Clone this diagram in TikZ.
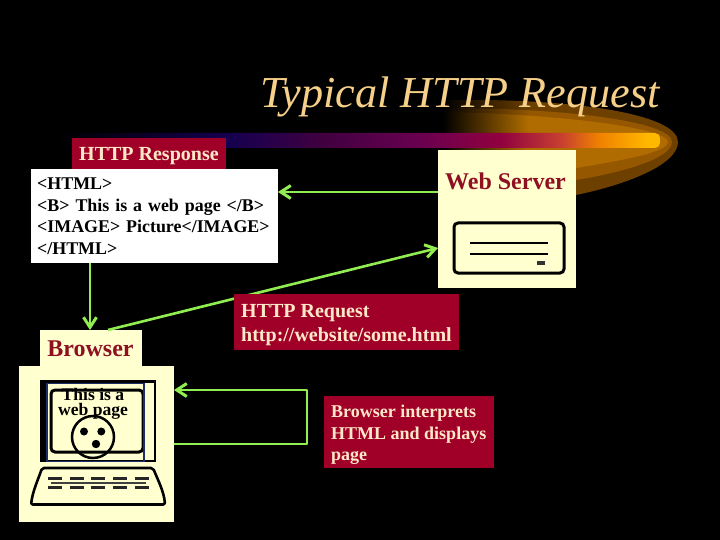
\documentclass[tikz,border=0pt]{standalone}
\usepackage{fontspec}
\setmainfont{Liberation Serif}
\usetikzlibrary{arrows.meta}
\definecolor{maroonbox}{HTML}{A00028}
\definecolor{creamtxt}{HTML}{FFE8C8}
\definecolor{paleyel}{HTML}{FFFFCF}
\definecolor{grn}{HTML}{92EE50}
\definecolor{titlecol}{HTML}{F6CF88}
\definecolor{lbl}{HTML}{8E1022}
\definecolor{scrblue}{HTML}{1A2F6A}
\definecolor{bA}{HTML}{150050}
\definecolor{bB}{HTML}{400040}
\definecolor{bC}{HTML}{6A0050}
\definecolor{bC2}{HTML}{90003F}
\definecolor{bD}{HTML}{C84030}
\definecolor{bE}{HTML}{F08000}
\definecolor{bF}{HTML}{FFB800}
\definecolor{sA}{HTML}{6E4000}
\definecolor{sB}{HTML}{955700}
\definecolor{sC}{HTML}{B06C00}
\pgfdeclarehorizontalshading{barshade}{100bp}{
 color(0bp)=(black); color(26bp)=(black); color(40bp)=(bA);
 color(47.5bp)=(bB); color(55.5bp)=(bC); color(62bp)=(bC2); color(67bp)=(bD);
 color(70bp)=(bE); color(74bp)=(bF); color(100bp)=(bF)}
\pgfdeclarehorizontalshading{swooshA}{100bp}{
 color(0bp)=(black); color(25bp)=(black); color(44bp)=(sA); color(100bp)=(sA)}
\pgfdeclarehorizontalshading{swooshB}{100bp}{
 color(0bp)=(black); color(25bp)=(black); color(44bp)=(sB); color(100bp)=(sB)}
\pgfdeclarehorizontalshading{swooshC}{100bp}{
 color(0bp)=(black); color(25bp)=(black); color(44bp)=(sC); color(100bp)=(sC)}
\tikzset{
 mbox/.style={fill=maroonbox,anchor=north west,inner sep=0pt},
 mtext/.style={text=creamtxt,anchor=base west,inner sep=0pt},
 ybox/.style={fill=paleyel,anchor=north west,inner sep=0pt},
 ylabel/.style={text=lbl,font=\bfseries\fontsize{24}{26}\selectfont,inner sep=0pt},
 conn/.style={draw=grn,line width=2pt},
 arr/.style={conn,-{Straight Barb[length=10pt,width=13pt,line width=3pt]}},
 blk/.style={draw=black,line width=3pt},
}
\begin{document}
\begin{tikzpicture}[x=1pt,y=-1pt]
\useasboundingbox (0,0) rectangle (720,540);
\fill[black] (0,0) rectangle (720,540);
% swoosh
\shade[shading=swooshA] (443,100) .. controls (580,98) and (678,115) .. (678,142) .. controls (678,165) and (625,185) .. (576,195) -- (443,200) -- cycle;
\shade[shading=swooshB] (443,108) .. controls (570,108) and (672,122) .. (672,142) .. controls (672,158) and (625,172) .. (576,180) -- (443,190) -- cycle;
\shade[shading=swooshC] (443,112) .. controls (560,114) and (668,128) .. (668,142) .. controls (668,152) and (625,160) .. (576,168) -- (443,180) -- cycle;
% bar
\shade[shading=barshade,rounded corners=5pt] (45,133) rectangle (660,148);
% title
\node[text=titlecol,font=\itshape\fontsize{44.2}{46}\selectfont,anchor=base west,inner sep=0pt] (title) at (260,108) {Typical HTTP Request};
% boxes
\node[mbox,minimum width=154pt,minimum height=31pt] (resp) at (72,138) {};
\node[mtext,font=\bfseries\fontsize{20}{22}\selectfont] (respT) at (79,161) {HTTP Response};
\node[fill=white,text=black,font=\bfseries\fontsize{17.9}{21.4}\selectfont,anchor=north west,inner ysep=0pt,inner xsep=6pt,minimum height=94pt,text width=235pt,align=left] (html) at (31,169) {<HTML>\\<B> This is a web page </B>\\<IMAGE> Picture</IMAGE>\\</HTML>};
\node[ybox,minimum width=138pt,minimum height=138pt] (server) at (438,150) {};
\node[ybox,minimum width=102pt,minimum height=40pt] (browser) at (40,330) {};
\node[ybox,minimum width=155pt,minimum height=156pt] (laptop) at (19,366) {};
\coordinate (srvIn) at (438,248);
\coordinate (brOut) at (108,330);
\coordinate (lapA) at (174,390);
\coordinate (lapB) at (174,444);
\coordinate (loopA) at (307,390);
\coordinate (loopB) at (307,444);
\coordinate (htmlDown) at (90,263);
\coordinate (brIn) at (90,330);
\coordinate (srvOut) at (438,192);
\coordinate (htmlIn) at (278,192);
% connectors
\draw[arr] (srvOut) -- (htmlIn);
\draw[arr] (htmlDown) -- (brIn);
\draw[arr,line width=2.6pt] (brOut) -- (srvIn);
\draw[arr,line join=round] (lapB) -- (loopB) -- (loopA) -- (lapA);
% boxes over connectors
\node[mbox,minimum width=225pt,minimum height=56pt] (req) at (234,294) {};
\node[mtext,font=\bfseries\fontsize{20}{24}\selectfont] (reqA) at (241,317) {HTTP Request};
\node[mtext,font=\bfseries\fontsize{20}{24}\selectfont] (reqB) at (241,341) {http://website/some.html};
\node[mbox,minimum width=170pt,minimum height=72pt] (interp) at (324,396) {};
\node[mtext,font=\bfseries\fontsize{18}{22}\selectfont] (intA) at (331,417) {Browser interprets};
\node[mtext,font=\bfseries\fontsize{18}{22}\selectfont] (intB) at (331,439) {HTML and displays};
\node[mtext,font=\bfseries\fontsize{18}{22}\selectfont] (intC) at (331,460) {page};
% labels
\node[ylabel] (lblS) at (505.5,181) {Web Server};
\node[ylabel] (lblB) at (90.5,349) {Browser};
% server icon
\draw[blk,rounded corners=4pt] (454,223) rectangle (564,273);
\draw[black,line width=2.6pt] (470,243) -- (548,243) (470,254) -- (548,254);
\fill[black!80] (537,261) rectangle (545,265);
% laptop icon
\draw[black,line width=2.4pt] (41,381.5) rectangle (155,461);
\fill[black] (40,381) rectangle (46,462);
\draw[blk,rounded corners=4pt] (51,390) rectangle (143,452);
\draw[draw=scrblue,line width=1.2pt] (47,383.5) rectangle (144,461.5);
\node[text=black,font=\bfseries\fontsize{17.6}{15.4}\selectfont,align=center,inner sep=0pt,anchor=north] (scr) at (93,388) {This is a\\web page};
\draw[black,line width=2.5pt] (93,437) circle (21);
\fill[black] (84,431.5) circle (4) (101.3,431.5) circle (4) (96,444) circle (4.2);
\draw[black,line width=2.6pt,line join=round,rounded corners=2pt] (31,504.5) .. controls (33,490) and (38,480) .. (42,468) -- (153,468) .. controls (158,480) and (164,492) .. (165,504.5) -- cycle;
\draw[black!75,line width=2pt] (51,482.5) -- (146,482.5);
\foreach \xx in {55,77,98,120,142}{\draw[black!85,line width=3pt] (\xx-7,478) -- (\xx+7,478) (\xx-7,487) -- (\xx+7,487);}
\end{tikzpicture}
\end{document}
